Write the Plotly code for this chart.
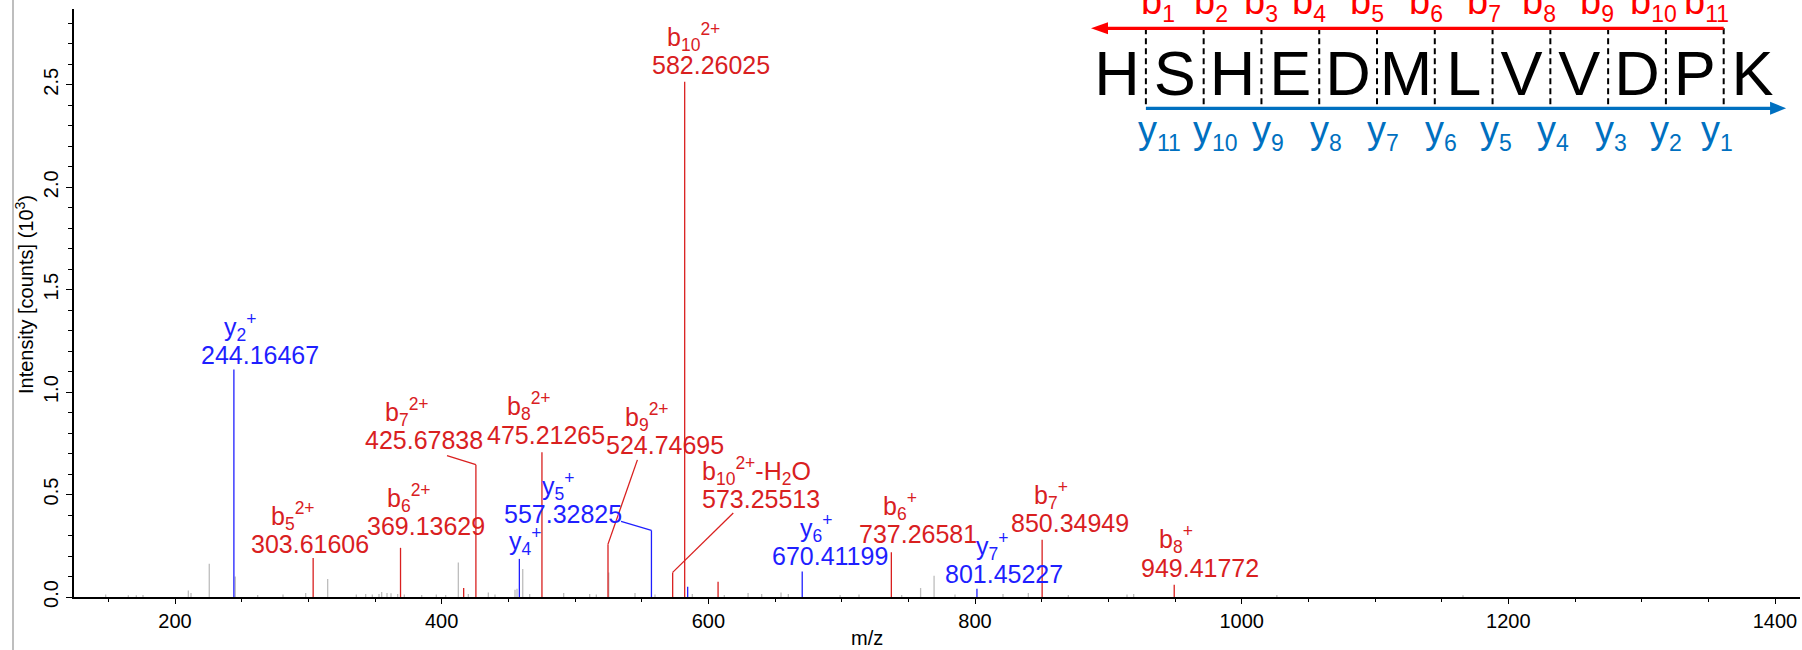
import plotly.graph_objects as go

# ---------------- data ----------------
# unassigned (grey) peaks
noise_mz = [148, 165, 171, 176, 210, 212, 225.7, 245.2, 262, 281, 298, 314.5, 336, 343,
            348, 353, 355, 359, 362, 367, 372, 385, 396, 403, 412.5, 420, 435, 440, 455,
            456.5, 460.8, 466, 491.5, 511, 516, 525.3, 545, 560, 588, 612, 629.8, 640,
            654.5, 660, 698.8, 713, 745, 759.2, 769.3, 785, 821, 840, 870, 914, 919,
            1026.4, 1166]
noise_int = [0.012, 0.008, 0.008, 0.010, 0.032, 0.020, 0.162, 0.100, 0.010, 0.012, 0.020,
             0.088, 0.012, 0.015, 0.012, 0.015, 0.025, 0.020, 0.018, 0.015, 0.012, 0.010,
             0.012, 0.010, 0.169, 0.015, 0.022, 0.012, 0.035, 0.040, 0.137, 0.015, 0.020,
             0.015, 0.012, 0.120, 0.020, 0.012, 0.015, 0.010, 0.020, 0.015, 0.022, 0.015,
             0.010, 0.012, 0.010, 0.044, 0.104, 0.012, 0.015, 0.020, 0.010, 0.012, 0.015,
             0.010, 0.008]

# assigned b-type ions (red)
b_mz = [303.61606, 369.13629, 425.67838, 475.21265, 524.74695, 573.25513, 582.26025,
        737.26581, 850.34949, 949.41772]
b_int = [0.190, 0.240, 0.646, 0.707, 0.258, 0.120, 2.515, 0.218, 0.279, 0.060]
b_names = ["b<sub>5</sub><sup>2+</sup>", "b<sub>6</sub><sup>2+</sup>", "b<sub>7</sub><sup>2+</sup>",
           "b<sub>8</sub><sup>2+</sup>", "b<sub>9</sub><sup>2+</sup>",
           "b<sub>10</sub><sup>2+</sup>-H<sub>2</sub>O", "b<sub>10</sub><sup>2+</sup>",
           "b<sub>6</sub><sup>+</sup>", "b<sub>7</sub><sup>+</sup>", "b<sub>8</sub><sup>+</sup>"]
b_extra_mz = [416.5, 607.3]
b_extra_int = [0.044, 0.075]

# assigned y-type ions (blue)
y_mz = [244.16467, 458.27, 557.32825, 670.41199, 801.45227]
y_int = [1.110, 0.186, 0.325, 0.125, 0.040]
y_names = ["y<sub>2</sub><sup>+</sup>", "y<sub>4</sub><sup>+</sup>", "y<sub>5</sub><sup>+</sup>",
           "y<sub>6</sub><sup>+</sup>", "y<sub>7</sub><sup>+</sup>"]
y_show_mz = [True, False, True, True, True]
y_extra_mz = [584.5]
y_extra_int = [0.050]

# peptide sequence
sequence = list("HSHEDMLVVDPK")
b_labels = ["b<sub><span style='font-size:23px'>%d</span></sub>" % k for k in range(1, 12)]
y_labels = ["y<sub><span style='font-size:23px'>%d</span></sub>" % k for k in range(11, 0, -1)]

x_ticks = [200, 400, 600, 800, 1000, 1200, 1400]

# ---------------- label placement (pixels) ----------------
# (dx of m/z text, gap peak-top -> m/z baseline, dx of ion name, leader (dx, dy) or None)
b_place = [(-3.5, 5, -20.4, None), (25.7, 13.3, 8.5, None), (-52.1, 15.7, -68.6, (-28.9, 9)),
           (3.6, 8.7, -13.2, None), (57, 90.3, 39, (29.4, 84.3)), (88.8, 64.4, 83.8, (60.6, 59.4)),
           (26.5, 7.7, 9.3, None), (27, 9.4, 9.1, None), (28.3, 8.3, 8.5, None),
           (25.4, 8.3, 1.8, None)]
y_place = [(26.1, 5.7, 6.6, None), (0, -18.7, 5.6, None), (-88.9, 7.4, -93.1, (-30.4, 9)),
           (27.3, 6.7, 13.5, None), (27.1, 6.0, 14.8, None)]
# horizontal nudges (px) of the sequence fragment labels relative to the cleavage sites
b_lab_dx = [12, 7, -0.5, -10, -10.5, -8.5, -8.5, -11.5, -11.5, -12, -17]
y_lab_dx = [14, 12, 6.5, 6.5, 6, 6, 3, 3, 2.5, 0, -7]

RED = "#D9201F"
BLUE = "#1F1FFF"
GREY = "#BDBDBD"
SEQ_RED = "#FF0000"
SEQ_BLUE = "#0070C0"
FONT = "Liberation Sans, Arial, sans-serif"

W, H = 1802, 650
ML, MR, MT, MB = 74, 2, 9, 53
PW, PH = W - ML - MR, H - MT - MB
PLOT_BOTTOM = MT + PH


def paper_y(py):
    return (PLOT_BOTTOM - py) / PH


def sticks(xs, ys):
    X, Y = [], []
    for x, y in zip(xs, ys):
        X += [x, x, None]
        Y += [0, y, None]
    return X, Y


fig = go.Figure()
for xs, ys, col in [(noise_mz, noise_int, GREY),
                    (b_mz + b_extra_mz, b_int + b_extra_int, RED),
                    (y_mz + y_extra_mz, y_int + y_extra_int, BLUE)]:
    X, Y = sticks(xs, ys)
    fig.add_trace(go.Scatter(x=X, y=Y, mode="lines", line=dict(color=col, width=1.3),
                             hoverinfo="skip", showlegend=False))

annotations = []
shapes = []


def add_labels(mzs, ints, names, places, color, show=None):
    for i, (mz, h, name, pl) in enumerate(zip(mzs, ints, names, places)):
        dxn, gap, dxi, leader = pl
        if show is None or show[i]:
            annotations.append(dict(x=mz, y=h, xref="x", yref="y", text="%.5f" % mz,
                                    showarrow=False, xanchor="center", yanchor="bottom",
                                    xshift=dxn, yshift=gap - 7.3,
                                    font=dict(size=25, color=color, family=FONT)))
        annotations.append(dict(x=mz, y=h, xref="x", yref="y", text=name,
                                showarrow=False, xanchor="center", yanchor="bottom",
                                xshift=dxi, yshift=gap + 28 - 11,
                                font=dict(size=25, color=color, family=FONT)))
        if leader is not None:
            shapes.append(dict(type="line", xref="x", yref="y", xsizemode="pixel",
                               ysizemode="pixel", xanchor=mz, yanchor=h, x0=0, y0=0,
                               x1=leader[0], y1=leader[1], line=dict(color=color, width=1.3)))


add_labels(b_mz, b_int, b_names, b_place, RED)
add_labels(y_mz, y_int, y_names, y_place, BLUE, y_show_mz)

# ---------------- sequence diagram (x2 = residue index, y2 = pixels from top) ----------------
n = len(sequence)
bounds = [i + 0.5 for i in range(n - 1)]
fig.add_trace(go.Scatter(x=list(range(n)), y=[79] * n, mode="text", text=sequence,
                         textfont=dict(size=63, color="black", family=FONT),
                         xaxis="x2", yaxis="y2", cliponaxis=False, hoverinfo="skip",
                         showlegend=False))
for b, lab, dx in zip(bounds, b_labels, b_lab_dx):
    annotations.append(dict(x=b, y=paper_y(28.6), xref="x2", yref="paper", text=lab,
                            showarrow=False, xanchor="center", yanchor="bottom", xshift=dx,
                            font=dict(size=38, color=SEQ_RED, family=FONT)))
for b, lab, dx in zip(bounds, y_labels, y_lab_dx):
    annotations.append(dict(x=b, y=paper_y(157.6), xref="x2", yref="paper", text=lab,
                            showarrow=False, xanchor="center", yanchor="bottom", xshift=dx,
                            font=dict(size=38, color=SEQ_BLUE, family=FONT)))
for b in bounds:
    shapes.append(dict(type="line", xref="x2", yref="y2", x0=b, x1=b, y0=28.3, y1=107,
                       line=dict(color="black", width=2, dash="6px,4px")))
# red arrow (pointing left)
shapes.append(dict(type="line", xref="x2", yref="y2", x0=bounds[-1], x1=-0.2, y0=28.3, y1=28.3,
                   line=dict(color=SEQ_RED, width=3.3)))
shapes.append(dict(type="path", xref="x2", yref="y2", xsizemode="pixel", ysizemode="pixel",
                   xanchor=-0.45, yanchor=28.3, path="M 0 0 L 17 6 L 17 -6 Z",
                   fillcolor=SEQ_RED, line=dict(color=SEQ_RED, width=0)))
# blue arrow (pointing right)
shapes.append(dict(type="line", xref="x2", yref="y2", x0=bounds[0], x1=11.35, y0=108.3, y1=108.3,
                   line=dict(color=SEQ_BLUE, width=3.3)))
shapes.append(dict(type="path", xref="x2", yref="y2", xsizemode="pixel", ysizemode="pixel",
                   xanchor=11.58, yanchor=108.3, path="M 0 0 L -16 6.5 L -16 -6.5 Z",
                   fillcolor=SEQ_BLUE, line=dict(color=SEQ_BLUE, width=0)))

# left grey frame line
shapes.append(dict(type="line", xref="paper", yref="paper", x0=(13 - ML) / PW, x1=(13 - ML) / PW,
                   y0=paper_y(H + 5), y1=paper_y(-5), line=dict(color="#A8A8A8", width=1.5)))

# axis titles
annotations.append(dict(x=(867 - ML) / PW, y=paper_y(638), xref="paper", yref="paper",
                        text="m/z", showarrow=False, xanchor="center", yanchor="middle",
                        font=dict(size=20, color="black", family=FONT)))
annotations.append(dict(x=(24 - ML) / PW, y=paper_y(295), xref="paper", yref="paper",
                        text="Intensity [counts] (10<sup>3</sup>)", showarrow=False,
                        textangle=-90, xanchor="center", yanchor="middle",
                        font=dict(size=20, color="black", family=FONT)))

x2_left_px, x2_right_px = 1060, W - MR
pos0_px, pos_step = 1117, 57.78

fig.update_layout(
    width=W, height=H,
    margin=dict(l=ML, r=MR, t=MT, b=MB),
    paper_bgcolor="white", plot_bgcolor="white",
    font=dict(family=FONT, size=20, color="black"),
    showlegend=False,
    xaxis=dict(range=[124.25, 1418.75], domain=[0, 1], anchor="y",
               showline=True, linecolor="black", linewidth=1.5,
               ticks="outside", ticklen=5, tickwidth=1.2, tickcolor="black",
               tickvals=x_ticks, showgrid=False, zeroline=False,
               tickfont=dict(size=20, family=FONT),
               minor=dict(dtick=50, tick0=0, ticks="outside", ticklen=3, tickcolor="black",
                          showgrid=False)),
    yaxis=dict(range=[0, 2.87], domain=[0, 1], anchor="x",
               showline=True, linecolor="black", linewidth=1.5,
               ticks="outside", ticklen=6, tickwidth=1.2, tickcolor="black",
               dtick=0.5, tick0=0, tickformat=".1f", tickangle=-90,
               showgrid=False, zeroline=False, tickfont=dict(size=20, family=FONT),
               minor=dict(dtick=0.1, tick0=0, ticks="outside", ticklen=4, tickcolor="black",
                          showgrid=False)),
    xaxis2=dict(domain=[(x2_left_px - ML) / PW, 1.0],
                range=[(x2_left_px - pos0_px) / pos_step, (x2_right_px - pos0_px) / pos_step],
                visible=False, anchor="y2"),
    yaxis2=dict(domain=[paper_y(160), 1.0], range=[160, MT], visible=False, anchor="x2"),
    annotations=annotations,
    shapes=shapes,
)

fig.write_html("out.html")
